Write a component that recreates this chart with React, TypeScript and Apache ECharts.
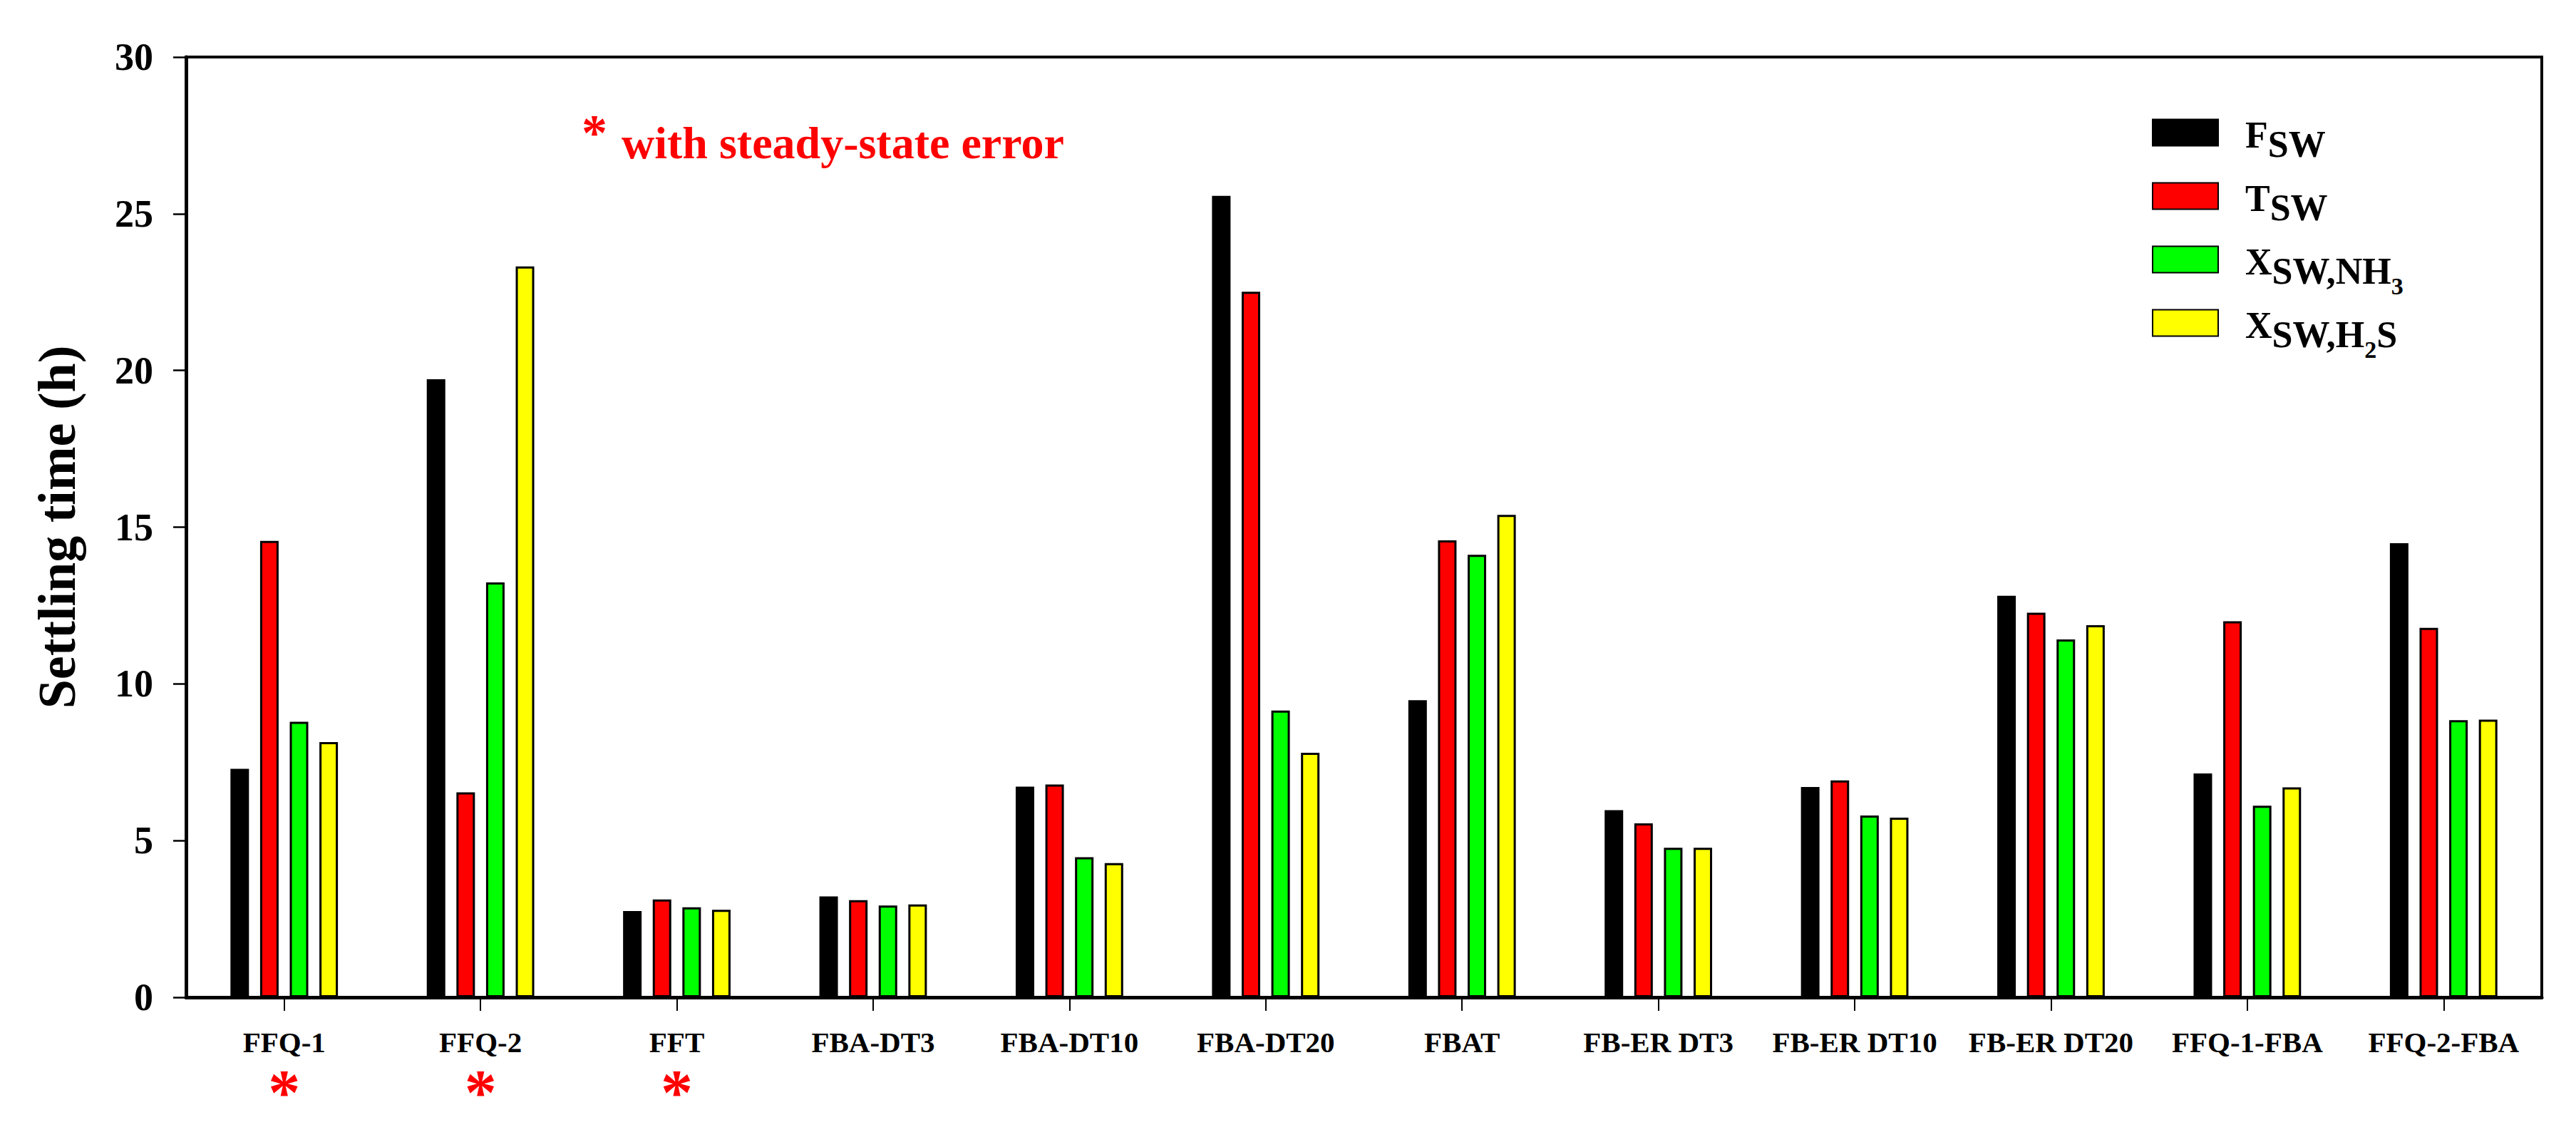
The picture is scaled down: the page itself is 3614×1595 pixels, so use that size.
import React, { useEffect, useRef } from "react";
import * as echarts from "echarts";

const categories = [
  "FFQ-1",
  "FFQ-2",
  "FFT",
  "FBA-DT3",
  "FBA-DT10",
  "FBA-DT20",
  "FBAT",
  "FB-ER DT3",
  "FB-ER DT10",
  "FB-ER DT20",
  "FFQ-1-FBA",
  "FFQ-2-FBA",
];
const steadyStateError = [true, true, true, false, false, false, false, false, false, false, false, false];

const fSW = [7.29, 19.72, 2.75, 3.22, 6.72, 25.57, 9.48, 5.97, 6.71, 12.81, 7.14, 14.49];
const tSW = [14.56, 6.54, 3.12, 3.1, 6.79, 22.51, 14.58, 5.55, 6.92, 12.27, 12.0, 11.79];
const xNH3 = [8.79, 13.24, 2.87, 2.93, 4.47, 9.15, 14.12, 4.77, 5.8, 11.42, 6.11, 8.84];
const xH2S = [8.14, 23.32, 2.79, 2.96, 4.28, 7.8, 15.39, 4.77, 5.73, 11.87, 6.7, 8.86];

const yTicks = [0, 5, 10, 15, 20, 25, 30];

const seriesNames = ["F_SW", "T_SW", "X_SW,NH3", "X_SW,H2S"];
const seriesColors = ["#000000", "#ff0000", "#00ff00", "#ffff00"];
const legendRich: Record<string, string> = {
  F_SW: "{m|F}{s|SW}",
  T_SW: "{m|T}{s|SW}",
  "X_SW,NH3": "{m|X}{s|SW,NH}{d|3}",
  "X_SW,H2S": "{m|X}{s|SW,H}{d|2}{s|S}",
};

const FONT = '"Liberation Serif", "Times New Roman", serif';

export default function App() {
  const ref = useRef<HTMLDivElement>(null);
  useEffect(() => {
    if (!ref.current) return;
    const chart = echarts.init(ref.current, undefined, { renderer: "svg" });
    const data = [fSW, tSW, xNH3, xH2S];
    chart.setOption({
      animation: false,
      backgroundColor: "#ffffff",
      textStyle: { fontFamily: FONT },
      grid: {
        left: 261,
        right: 48,
        top: 80,
        bottom: 196,
        show: true,
        borderColor: "#000",
        borderWidth: 4,
        backgroundColor: "transparent",
      },
      legend: {
        orient: "vertical",
        left: 3019,
        top: 132,
        padding: 0,
        icon: "rect",
        itemWidth: 92,
        itemHeight: 37,
        itemGap: -19,
        data: seriesNames,
        formatter: (name: string) => legendRich[name] || name,
        textStyle: {
          padding: [0, 0, 0, 33],
          rich: {
            m: { fontSize: 52, lineHeight: 52, fontWeight: "bold", fontFamily: FONT, color: "#000", padding: [31, 0, 25, 0] },
            s: { fontSize: 52, lineHeight: 52, fontWeight: "bold", fontFamily: FONT, color: "#000", padding: [44, 0, 12, 0] },
            d: { fontSize: 34, lineHeight: 34, fontWeight: "bold", fontFamily: FONT, color: "#000", padding: [74, 0, 0, 0] },
          },
        },
      },
      xAxis: {
        type: "category",
        data: categories,
        axisLine: { show: true, lineStyle: { color: "#000", width: 5 } },
        axisTick: { show: true, alignWithLabel: true, length: 19, lineStyle: { color: "#000", width: 2 } },
        axisLabel: {
          interval: 0,
          margin: 42,
          formatter: (value: string, idx: number) =>
            steadyStateError[idx] ? `{a|${value}}\n{s|*}` : `{a|${value}}`,
          rich: {
            a: { fontSize: 41, fontWeight: "bold", fontFamily: FONT, color: "#000", lineHeight: 41 },
            s: {
              fontSize: 90,
              fontWeight: "bold",
              fontFamily: FONT,
              color: "#ff0000",
              lineHeight: 44,
              padding: [57, 0, 0, 0],
            },
          },
        },
        splitLine: { show: false },
      },
      yAxis: {
        type: "value",
        min: yTicks[0],
        max: yTicks[yTicks.length - 1],
        interval: 5,
        name: "Settling time (h)",
        nameLocation: "middle",
        nameGap: 144,
        nameTextStyle: { fontSize: 74, fontWeight: "bold", fontFamily: FONT, color: "#000" },
        axisLine: { show: true, lineStyle: { color: "#000", width: 5 } },
        axisTick: { show: true, inside: false, length: 18, lineStyle: { color: "#000", width: 2.5 } },
        axisLabel: { fontSize: 54, fontWeight: "bold", fontFamily: FONT, color: "#000", margin: 46 },
        splitLine: { show: false },
      },
      series: seriesNames.map((name, i) => ({
        name,
        type: "bar",
        data: data[i],
        barWidth: 26,
        barGap: "60%",
        itemStyle: { color: seriesColors[i], borderColor: "#000", borderWidth: 3 },
      })),
      graphic: [
        {
          type: "text",
          left: 816,
          top: 150,
          style: {
            text: "*",
            fontSize: 72,
            fontWeight: "bold",
            fontFamily: FONT,
            fill: "#ff0000",
          },
        },
        {
          type: "text",
          x: 872,
          y: 200,
          style: {
            text: "with steady-state error",
            fontSize: 64,
            fontWeight: "bold",
            fontFamily: FONT,
            fill: "#ff0000",
            textAlign: "left",
            textVerticalAlign: "middle",
          },
        },
      ],
    });
    return () => chart.dispose();
  }, []);
  return (
    <div
      ref={ref}
      style={{ position: "fixed", left: 0, top: 0, width: 3614, height: 1595, background: "#fff" }}
    />
  );
}
